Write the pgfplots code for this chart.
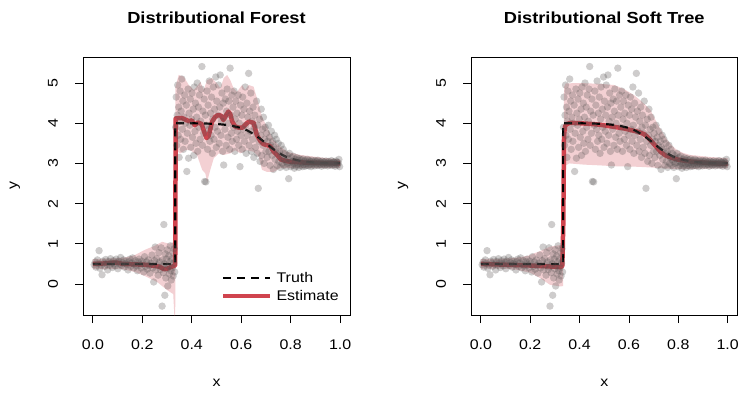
\documentclass[border=0pt]{standalone}
\usepackage{fontspec}
\setmainfont{Liberation Sans}[FakeStretch=1.14]
\usepackage{pgfplots}
\usepackage{pgfplotstable}
\pgfplotsset{compat=1.18}
\definecolor{estred}{RGB}{208,68,78}
\definecolor{ptgray}{RGB}{85,80,80}

\pgfplotstableread{
x y
0.005 0.48
0.010 0.55
0.012 0.42
0.018 0.60
0.022 0.51
0.025 0.83
0.028 0.39
0.033 0.47
0.037 0.23
0.040 0.57
0.045 0.52
0.048 0.44
0.052 0.61
0.057 0.49
0.060 0.35
0.064 0.56
0.068 0.47
0.071 0.63
0.075 0.52
0.079 0.41
0.083 0.58
0.086 0.50
0.090 0.45
0.094 0.62
0.097 0.54
0.101 0.38
0.105 0.57
0.109 0.49
0.112 0.66
0.116 0.46
0.120 0.53
0.124 0.60
0.127 0.42
0.131 0.51
0.135 0.57
0.139 0.48
0.142 0.35
0.146 0.55
0.150 0.62
0.154 0.44
0.157 0.52
0.161 0.65
0.165 0.40
0.168 0.49
0.172 0.58
0.176 0.45
0.180 0.33
0.183 0.55
0.187 0.62
0.191 0.47
0.195 0.40
0.198 0.57
0.202 0.51
0.206 0.30
0.209 0.68
0.213 0.44
0.217 0.55
0.220 0.37
0.224 0.60
0.228 0.46
0.231 0.27
0.235 0.52
0.239 0.72
0.242 0.40
0.246 0.05
0.249 0.58
0.252 0.92
0.255 0.35
0.258 0.63
0.261 0.47
0.264 0.22
0.267 0.78
0.270 0.55
0.273 0.36
0.276 0.90
0.278 0.43
0.280 -0.55
0.282 0.60
0.285 0.28
0.287 1.48
0.289 0.50
0.291 -0.28
0.293 0.75
0.295 0.15
0.297 0.62
0.299 0.38
0.301 0.85
0.303 -0.05
0.305 0.45
0.307 0.70
0.309 0.25
0.311 0.55
0.313 0.95
0.315 0.33
0.317 0.10
0.319 0.62
0.321 0.40
0.323 0.78
0.325 0.20
0.327 0.52
0.329 0.88
0.331 0.30
0.335 3.90
0.337 4.65
0.339 3.45
0.341 4.20
0.343 4.95
0.345 3.70
0.347 4.40
0.349 3.15
0.351 4.05
0.353 4.80
0.355 3.60
0.357 4.30
0.360 5.10
0.362 3.85
0.364 4.55
0.366 3.35
0.369 4.15
0.371 4.70
0.373 3.55
0.375 4.00
0.378 4.45
0.380 2.80
0.382 3.75
0.385 4.85
0.387 3.13
0.389 4.25
0.392 3.95
0.394 4.60
0.396 3.40
0.399 4.10
0.401 4.75
0.403 3.65
0.406 4.35
0.408 3.20
0.410 4.90
0.413 3.80
0.415 4.50
0.417 3.50
0.420 4.15
0.422 5.00
0.424 3.30
0.427 4.40
0.429 3.90
0.431 4.70
0.434 3.60
0.436 4.05
0.438 4.85
0.441 5.41
0.443 3.45
0.445 4.30
0.448 3.75
0.450 4.60
0.452 2.55
0.455 4.20
0.457 2.54
0.459 3.95
0.462 4.80
0.464 3.35
0.466 4.45
0.469 3.85
0.471 5.05
0.473 3.55
0.476 4.25
0.478 3.70
0.480 4.65
0.483 3.25
0.485 4.10
0.487 4.90
0.490 3.60
0.492 4.35
0.494 3.90
0.497 5.15
0.499 3.40
0.501 4.55
0.504 3.80
0.506 4.20
0.508 4.95
0.511 3.50
0.513 4.40
0.515 5.20
0.518 3.70
0.520 4.05
0.522 4.75
0.525 3.30
0.527 4.50
0.529 2.96
0.532 4.15
0.534 3.85
0.536 4.60
0.539 3.45
0.541 4.30
0.543 4.85
0.546 3.65
0.548 4.00
0.550 4.55
0.553 3.35
0.555 5.37
0.557 4.20
0.560 3.75
0.562 4.70
0.564 3.55
0.567 4.40
0.569 3.90
0.571 4.80
0.574 3.30
0.576 4.10
0.578 4.55
0.581 3.60
0.583 4.25
0.585 3.80
0.588 4.70
0.590 3.45
0.592 4.00
0.595 2.92
0.597 4.45
0.599 3.70
0.602 4.20
0.604 3.35
0.606 4.65
0.609 3.85
0.611 4.35
0.613 3.55
0.616 4.90
0.618 3.95
0.620 3.25
0.623 4.50
0.625 3.70
0.627 4.15
0.630 5.24
0.632 3.45
0.634 4.30
0.637 3.80
0.639 4.75
0.641 3.30
0.644 4.05
0.646 3.60
0.648 4.40
0.651 3.15
0.653 3.90
0.655 4.20
0.658 3.40
0.660 3.75
0.662 4.55
0.665 3.25
0.667 3.95
0.669 2.38
0.672 3.55
0.674 4.10
0.676 3.05
0.679 3.70
0.681 4.35
0.683 3.20
0.686 3.85
0.688 3.45
0.690 4.15
0.693 3.00
0.695 3.60
0.697 3.90
0.700 3.30
0.702 3.75
0.705 3.15
0.707 3.55
0.710 3.95
0.712 3.30
0.715 3.65
0.717 2.95
0.720 3.45
0.722 3.80
0.725 3.20
0.727 3.55
0.730 2.85
0.732 3.40
0.735 3.70
0.737 3.10
0.740 3.35
0.742 3.60
0.745 2.95
0.747 3.25
0.750 3.50
0.752 3.05
0.755 3.30
0.757 2.90
0.760 3.20
0.762 3.45
0.765 3.00
0.767 3.15
0.770 3.35
0.772 2.95
0.775 3.10
0.777 3.25
0.780 3.05
0.782 2.90
0.785 3.20
0.787 3.00
0.790 3.12
0.792 2.62
0.795 3.25
0.797 3.02
0.800 2.92
0.803 3.15
0.805 3.05
0.808 2.95
0.810 3.18
0.813 3.00
0.815 2.88
0.818 3.10
0.820 3.03
0.823 2.93
0.825 3.14
0.828 2.98
0.830 3.08
0.833 2.90
0.835 3.12
0.838 3.00
0.840 2.95
0.843 3.09
0.845 3.02
0.848 2.92
0.850 3.11
0.853 2.97
0.855 3.05
0.858 2.93
0.860 3.08
0.863 3.00
0.865 2.95
0.868 3.10
0.870 3.03
0.873 2.94
0.875 3.07
0.878 2.98
0.880 3.04
0.883 2.92
0.885 3.08
0.888 3.00
0.890 2.96
0.893 3.06
0.895 3.02
0.898 2.94
0.900 3.07
0.903 2.99
0.905 3.04
0.908 2.95
0.910 3.08
0.913 3.01
0.915 2.96
0.918 3.05
0.920 2.98
0.923 3.03
0.925 2.93
0.928 3.06
0.930 3.00
0.933 2.97
0.935 3.04
0.938 2.95
0.940 3.02
0.943 3.06
0.945 2.98
0.948 3.01
0.950 2.94
0.953 3.05
0.955 3.00
0.958 2.96
0.960 3.03
0.963 2.99
0.965 3.07
0.968 2.95
0.970 3.01
0.973 3.04
0.975 2.97
0.978 3.02
0.980 2.93
0.983 3.06
0.985 2.99
0.988 3.03
0.990 2.96
0.993 3.01
0.995 3.10
0.998 2.92
}\points

\pgfplotstableread{
x y
0 0.5
0.3333 0.5
0.3333 4.0
0.40 3.998
0.45 3.993
0.50 3.982
0.55 3.953
0.60 3.881
0.625 3.818
0.65 3.731
0.675 3.622
0.70 3.5
0.725 3.378
0.75 3.269
0.775 3.182
0.80 3.119
0.85 3.047
0.90 3.018
0.95 3.007
1.0 3.002
}\truth

\pgfplotsset{
  rpanel/.style={
    scale only axis, height=258pt,
    xmin=-0.04, xmax=1.04, ymin=-0.771, ymax=5.647,
    xtick={0,0.2,0.4,0.6,0.8,1}, xticklabels={0.0,0.2,0.4,0.6,0.8,1.0},
    ytick={0,1,2,3,4,5}, yticklabels={0,1,2,3,4,5},
    xtick pos=bottom, ytick pos=left,
    tick align=outside, major tick length=8pt,
    axis line style={black, line width=0.8pt},
    every tick/.style={black, line width=0.8pt},
    tick label style={font=\fontsize{14}{16}\selectfont},
    xticklabel style={anchor=center}, xticklabel shift=22pt,
    yticklabel style={rotate=90, anchor=center}, yticklabel shift=22pt,
    label style={font=\fontsize{14}{16}\selectfont},
    xlabel={x}, ylabel={y},
    xlabel style={at={(axis description cs:0.5,-0.2636)}, anchor=center},
    ylabel style={at={(axis description cs:-0.2547,0.5)}, anchor=center},
    title style={at={(axis description cs:0.5,1.128)}, anchor=center, font=\fontsize{16}{18}\selectfont\bfseries},
    clip=true,
  },
  ptstyle/.style={only marks, mark=*, mark size=3.7pt, color=ptgray,
    mark options={solid, fill=ptgray, draw opacity=0, fill opacity=0.29}, forget plot},
}

\begin{document}
\begin{tikzpicture}
\useasboundingbox (0pt,0pt) rectangle (738pt,392pt);
% ---------------- Left panel ----------------
\begin{axis}[rpanel, at={(83pt,77pt)}, anchor=south west, width=267pt,
  title={Distributional Forest},
  legend style={at={(axis description cs:0.505,0.035)}, anchor=south west, draw=none, fill=none,
    font=\fontsize{14}{16}\selectfont, row sep=2pt, column sep=2pt, cells={anchor=west}},
  legend image code/.code={\draw[#1] (0pt,0pt) -- (47pt,0pt);}]
\addlegendimage{black, line width=2.2pt, dash pattern=on 8pt off 6pt}
\addlegendentry{Truth}
\addlegendimage{estred, line width=4.5pt}
\addlegendentry{Estimate}
\addplot[fill=estred, fill opacity=0.25, draw=none, forget plot] coordinates {
(0,0.62)(0.05,0.63)(0.10,0.64)(0.14,0.67)(0.17,0.72)(0.21,0.85)(0.25,0.95)(0.28,1.05)(0.31,1.0)(0.327,1.05)(0.332,1.05)
(0.334,4.91)(0.347,5.20)(0.367,5.16)(0.388,4.95)(0.408,4.83)(0.421,4.91)(0.435,5.03)(0.448,4.83)(0.462,5.07)(0.482,5.12)(0.502,4.99)(0.516,4.87)(0.529,5.12)(0.543,5.20)(0.556,5.07)(0.569,4.87)(0.583,4.78)(0.603,4.95)(0.616,4.83)(0.630,4.95)(0.650,4.91)(0.670,4.49)(0.684,4.16)(0.704,3.91)(0.731,3.58)(0.758,3.42)(0.785,3.29)(0.839,3.21)(0.946,3.13)(1.0,3.10)
(1.0,2.88)(0.892,2.88)(0.811,2.88)(0.758,2.88)(0.731,2.79)(0.704,2.79)(0.684,2.84)(0.670,3.17)(0.650,3.29)(0.623,3.33)(0.596,3.25)(0.576,3.33)(0.556,3.25)(0.529,3.21)(0.509,3.25)(0.489,3.13)(0.475,2.84)(0.462,2.54)(0.455,2.75)(0.442,2.84)(0.421,3.21)(0.394,3.33)(0.374,3.33)(0.354,3.25)(0.334,3.33)
(0.333,-1.2)(0.325,-0.25)(0.30,-0.15)(0.26,0.05)(0.21,0.2)(0.17,0.3)(0.12,0.37)(0.05,0.37)(0,0.38)
} -- cycle;
\addplot[ptstyle] table[x=x,y=y] {\points};
\addplot[estred, line width=4.5pt, line join=round, forget plot] coordinates {
(0,0.50)(0.04,0.51)(0.08,0.53)(0.10,0.53)(0.12,0.50)(0.16,0.49)(0.21,0.48)(0.25,0.45)(0.27,0.43)(0.287,0.37)(0.30,0.38)(0.315,0.42)(0.328,0.45)(0.333,0.47)(0.335,4.12)(0.36,4.13)(0.374,4.09)(0.388,4.05)(0.40,4.07)(0.412,3.95)(0.425,4.02)(0.44,3.98)(0.452,3.75)(0.46,3.63)(0.468,3.68)(0.475,3.85)(0.482,4.04)(0.495,4.16)(0.505,4.20)(0.518,4.19)(0.528,4.08)(0.537,4.18)(0.548,4.29)(0.556,4.22)(0.563,4.05)(0.575,3.92)(0.59,3.89)(0.605,3.89)(0.618,3.97)(0.63,4.04)(0.65,4.01)(0.663,3.71)(0.677,3.56)(0.69,3.48)(0.717,3.43)(0.73,3.30)(0.745,3.21)(0.76,3.10)(0.78,3.06)(0.80,3.04)(0.86,3.02)(0.93,3.01)(1.0,3.00)
};
\addplot[black, line width=2.2pt, dash pattern=on 8pt off 6pt, forget plot] table[x=x,y=y] {\truth};
\end{axis}
% ---------------- Right panel ----------------
\begin{axis}[rpanel, at={(471pt,77pt)}, anchor=south west, width=266.5pt,
  title={Distributional Soft Tree}]
\addplot[fill=estred, fill opacity=0.25, draw=none, forget plot] coordinates {
(0,0.62)(0.10,0.63)(0.15,0.66)(0.19,0.70)(0.24,0.82)(0.28,0.93)(0.323,0.97)(0.333,0.95)
(0.337,4.90)(0.344,4.99)(0.40,5.00)(0.48,4.98)(0.54,4.95)(0.58,4.85)(0.62,4.70)(0.65,4.55)(0.687,4.33)(0.714,4.0)(0.735,3.78)(0.755,3.58)(0.775,3.44)(0.795,3.33)(0.82,3.26)(0.849,3.21)(0.93,3.16)(1.0,3.13)
(1.0,2.88)(0.9,2.87)(0.82,2.86)(0.755,2.87)(0.687,2.90)(0.62,2.92)(0.54,2.93)(0.485,2.95)(0.418,2.97)(0.358,3.0)(0.344,2.95)(0.337,2.92)
(0.333,-0.05)(0.323,-0.06)(0.28,-0.02)(0.24,0.15)(0.20,0.28)(0.15,0.35)(0.10,0.38)(0,0.38)
} -- cycle;
\addplot[ptstyle] table[x=x,y=y] {\points};
\addplot[estred, line width=4.5pt, line join=round, forget plot] coordinates {
(0,0.50)(0.1,0.48)(0.2,0.46)(0.30,0.43)(0.323,0.42)(0.330,0.45)(0.334,1.5)(0.337,3.7)(0.341,3.92)(0.348,3.98)(0.364,4.01)(0.40,4.00)(0.45,3.98)(0.485,3.96)(0.539,3.91)(0.58,3.87)(0.607,3.83)(0.635,3.79)(0.661,3.73)(0.675,3.66)(0.687,3.58)(0.707,3.44)(0.728,3.29)(0.748,3.20)(0.768,3.15)(0.795,3.10)(0.822,3.07)(0.86,3.04)(0.903,3.02)(0.95,3.00)(1.0,2.99)
};
\addplot[black, line width=2.2pt, dash pattern=on 8pt off 6pt, forget plot] table[x=x,y=y] {\truth};
\end{axis}
\end{tikzpicture}
\end{document}
